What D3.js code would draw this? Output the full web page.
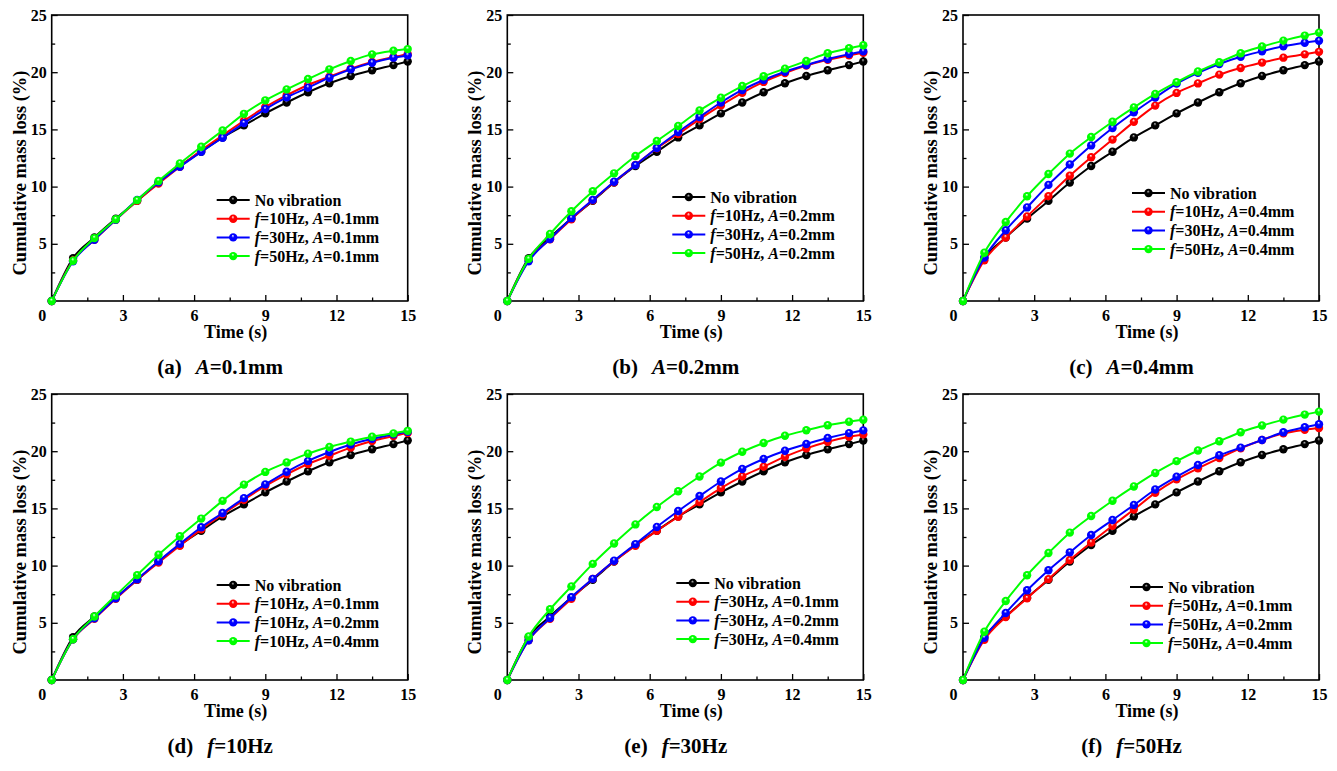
<!DOCTYPE html>
<html>
<head>
<meta charset="utf-8">
<script src="https://cdn.jsdelivr.net/npm/d3@7"></script>
<style>
  body { margin: 0; background: #fff; }
  svg text { font-family: "Liberation Serif", "Times New Roman", serif; font-weight: bold; fill: #000; }
</style>
</head>
<body>
<div id="chart"></div>
<script>
// sampling times (s)
const timeS = [0, 0.9, 1.8, 2.7, 3.6, 4.5, 5.4, 6.3, 7.2, 8.1, 9, 9.9, 10.8, 11.7, 12.6, 13.5, 14.4, 15];

// cumulative mass loss (%) for each condition
const noVibration = [0, 3.75, 5.55, 7.2, 8.75, 10.35, 11.8, 13.05, 14.3, 15.35, 16.4, 17.35, 18.25, 19.03, 19.67, 20.17, 20.62, 20.93];
const f10A01 = [0, 3.55, 5.35, 7.1, 8.75, 10.26, 11.74, 13.17, 14.48, 15.75, 16.96, 17.98, 18.88, 19.6, 20.31, 20.89, 21.33, 21.58];
const f30A01 = [0, 3.48, 5.36, 7.1, 8.84, 10.37, 11.73, 13.04, 14.27, 15.55, 16.78, 17.8, 18.65, 19.52, 20.25, 20.83, 21.27, 21.47];
const f50A01 = [0, 3.52, 5.5, 7.14, 8.82, 10.49, 12.02, 13.48, 14.9, 16.36, 17.54, 18.5, 19.4, 20.25, 20.98, 21.56, 21.87, 22.02];
const f10A02 = [0, 3.55, 5.4, 7.15, 8.8, 10.38, 11.9, 13.35, 14.6, 15.9, 17.1, 18.2, 19.15, 19.93, 20.58, 21.08, 21.47, 21.7];
const f30A02 = [0, 3.48, 5.42, 7.24, 8.84, 10.43, 11.88, 13.38, 14.77, 16.08, 17.35, 18.45, 19.32, 20.04, 20.63, 21.15, 21.58, 21.82];
const f50A02 = [0, 3.68, 5.86, 7.84, 9.59, 11.16, 12.67, 13.99, 15.3, 16.65, 17.77, 18.79, 19.64, 20.31, 20.98, 21.65, 22.09, 22.35];
const f10A04 = [0, 3.56, 5.55, 7.39, 9.17, 10.95, 12.57, 14.11, 15.66, 17.08, 18.19, 19.02, 19.79, 20.37, 20.84, 21.27, 21.56, 21.78];
const f30A04 = [0, 3.8, 6.18, 8.18, 10.15, 11.93, 13.6, 15.12, 16.5, 17.79, 19.0, 19.95, 20.72, 21.35, 21.83, 22.27, 22.58, 22.75];
const f50A04 = [0, 4.22, 6.9, 9.16, 11.1, 12.88, 14.33, 15.67, 16.92, 18.1, 19.13, 20.06, 20.87, 21.66, 22.24, 22.76, 23.2, 23.46];

// which vibration conditions each panel compares (besides "No vibration")
const panelLetters = ['a', 'b', 'c', 'd', 'e', 'f'];
const panelF = [[10, 30, 50], [10, 30, 50], [10, 30, 50], [10, 10, 10], [30, 30, 30], [50, 50, 50]];
const panelA = [[0.1, 0.1, 0.1], [0.2, 0.2, 0.2], [0.4, 0.4, 0.4], [0.1, 0.2, 0.4], [0.1, 0.2, 0.4], [0.1, 0.2, 0.4]];
const captionVar = ['A', 'A', 'A', 'f', 'f', 'f'];
const captionValue = ['=0.1mm', '=0.2mm', '=0.4mm', '=10Hz', '=30Hz', '=50Hz'];

const xTicks = [0, 3, 6, 9, 12, 15];
const xMinorTicks = [1.5, 4.5, 7.5, 10.5, 13.5];
const yTicks = [5, 10, 15, 20, 25];
const yMinorTicks = [2.5, 7.5, 12.5, 17.5, 22.5];

const conditionData = {
  'f10A0.1': f10A01, 'f30A0.1': f30A01, 'f50A0.1': f50A01,
  'f10A0.2': f10A02, 'f30A0.2': f30A02, 'f50A0.2': f50A02,
  'f10A0.4': f10A04, 'f30A0.4': f30A04, 'f50A0.4': f50A04
};

// layout
const config = {
  width: 1337, height: 771,
  lefts: [51.7, 507.3, 963],
  tops: [15, 394],
  plotW: 356, plotH: 286,
  legendPos: [[165, 185], [165, 182], [169, 178], [165, 191], [169, 189], [167, 193]],
  legendRow: 18.7,
  colors: ['#000000', '#ff0000', '#0000ff', '#00ff00'],
  highlights: ['#bbbbbb', '#ffffff', '#ffffff', '#ffffff']
};

const svg = d3.select('#chart').append('svg')
    .attr('width', config.width)
    .attr('height', config.height);

// shaded ball markers
const defs = svg.append('defs');
config.colors.forEach((c, i) => {
  const grad = defs.append('radialGradient')
      .attr('id', 'ball' + i)
      .attr('cx', '50%').attr('cy', '50%').attr('r', '50%')
      .attr('fx', '45%').attr('fy', '28%');
  grad.append('stop').attr('offset', '0%').attr('stop-color', config.highlights[i]);
  grad.append('stop').attr('offset', '38%').attr('stop-color', c);
  grad.append('stop').attr('offset', '100%').attr('stop-color', c);
});

panelLetters.forEach((letter, i) => {
  const col = i % 3, row = Math.floor(i / 3);
  const W = config.plotW, H = config.plotH;
  const g = svg.append('g')
      .attr('transform', `translate(${config.lefts[col]},${config.tops[row]})`);

  const x = d3.scaleLinear().domain([0, 15]).range([0, W]);
  const y = d3.scaleLinear().domain([0, 25]).range([H, 0]);

  // minor ticks (inward)
  g.append('g')
      .attr('transform', `translate(0,${H})`)
      .call(d3.axisBottom(x).tickValues(xMinorTicks).tickSize(-3.5).tickFormat(''))
      .call(a => a.select('.domain').remove());
  g.append('g')
      .call(d3.axisLeft(y).tickValues(yMinorTicks).tickSize(-3.5).tickFormat(''))
      .call(a => a.select('.domain').remove());

  // major ticks + labels
  const xAxisG = g.append('g')
      .attr('transform', `translate(0,${H})`)
      .call(d3.axisBottom(x).tickValues(xTicks).tickSize(-6).tickPadding(8.5).tickFormat(d3.format('d')))
      .call(a => a.select('.domain').remove());
  const yAxisG = g.append('g')
      .call(d3.axisLeft(y).tickValues(yTicks).tickSize(-6).tickPadding(5).tickFormat(d3.format('d')))
      .call(a => a.select('.domain').remove());

  [xAxisG, yAxisG].forEach(a => {
    a.selectAll('line').attr('stroke', '#000').attr('stroke-width', 1.3);
    a.selectAll('text')
        .attr('font-family', null)
        .attr('font-size', null)
        .style('font-size', '16px');
  });
  g.selectAll('.tick line').attr('stroke', '#000').attr('stroke-width', 1.3);

  // the "0" sits off the corner
  xAxisG.selectAll('.tick').filter(d => d === 0).select('text').attr('x', -10);

  // frame
  g.append('rect')
      .attr('width', W).attr('height', H)
      .attr('fill', 'none')
      .attr('stroke', '#000')
      .attr('stroke-width', 1.6);

  // axis titles
  g.append('text')
      .attr('transform', `translate(-26,${H / 2 + 15}) rotate(-90)`)
      .attr('text-anchor', 'middle')
      .style('font-size', '18.5px')
      .text('Cumulative mass loss (%)');
  g.append('text')
      .attr('x', W / 2 + 6)
      .attr('y', H + 37)
      .attr('text-anchor', 'middle')
      .style('font-size', '18px')
      .text('Time (s)');

  // series
  const series = [noVibration].concat(panelF[i].map((f, k) => conditionData[`f${f}A${panelA[i][k]}`]));
  const line = d3.line()
      .x((d, j) => x(timeS[j]))
      .y(d => y(d))
      .curve(d3.curveMonotoneX);

  series.forEach((vals, s) => {
    g.append('path')
        .attr('d', line(vals))
        .attr('fill', 'none')
        .attr('stroke', config.colors[s])
        .attr('stroke-width', 2);
    g.selectAll(null)
        .data(vals)
        .enter().append('circle')
        .attr('cx', (d, j) => x(timeS[j]))
        .attr('cy', d => y(d))
        .attr('r', 4.2)
        .attr('fill', `url(#ball${s})`);
  });

  // legend
  const [lx, ly] = config.legendPos[i];
  const legend = g.append('g').attr('transform', `translate(${lx},${ly})`);
  series.forEach((vals, s) => {
    const r = legend.append('g').attr('transform', `translate(0,${s * config.legendRow})`);
    r.append('line')
        .attr('x1', 0).attr('x2', 33)
        .attr('stroke', config.colors[s])
        .attr('stroke-width', 2);
    r.append('circle')
        .attr('cx', 16.5).attr('r', 4.2)
        .attr('fill', `url(#ball${s})`);
    const t = r.append('text')
        .attr('x', 38).attr('y', 5.5)
        .style('font-size', '16px');
    if (s === 0) {
      t.text('No vibration');
    } else {
      t.append('tspan').style('font-style', 'italic').text('f');
      t.append('tspan').text(`=${panelF[i][s - 1]}Hz, `);
      t.append('tspan').style('font-style', 'italic').text('A');
      t.append('tspan').text(`=${panelA[i][s - 1]}mm`);
    }
  });

  // caption
  const cap = g.append('text')
      .attr('x', W / 2 - 9.5)
      .attr('y', H + 72.5)
      .attr('text-anchor', 'middle')
      .style('font-size', '21px');
  cap.append('tspan').text(`(${letter})`);
  cap.append('tspan').attr('dx', 14).style('font-style', 'italic').text(captionVar[i]);
  cap.append('tspan').text(captionValue[i]);
});
</script>
</body>
</html>
